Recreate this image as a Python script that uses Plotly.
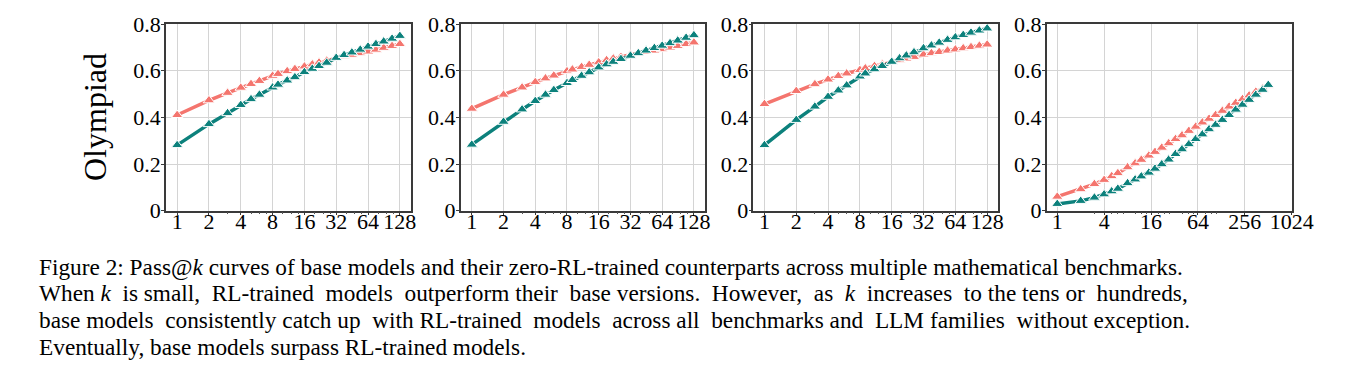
import plotly.graph_objects as go
import math

W, H = 1371, 374

# ---------------- data ----------------
k_128 = [1, 2, 3, 4, 5, 6, 8, 9, 11, 13, 16, 19, 22, 26, 32, 38, 45, 54, 64, 76, 90, 108, 128]
k_512 = [1, 2, 3, 4, 5, 6, 8, 10, 12, 15, 18, 22, 27, 33, 40, 49, 60, 73, 89, 108, 132, 161,
         196, 239, 291, 355, 433, 512]

p1_red = [0.410, 0.473, 0.505, 0.527, 0.543, 0.556, 0.578, 0.586, 0.598, 0.607, 0.618, 0.627,
          0.635, 0.643, 0.655, 0.662, 0.668, 0.675, 0.682, 0.690, 0.698, 0.706, 0.714]
p1_teal = [0.281, 0.371, 0.418, 0.453, 0.478, 0.497, 0.528, 0.540, 0.558, 0.572, 0.594, 0.608,
           0.620, 0.634, 0.655, 0.667, 0.678, 0.690, 0.703, 0.714, 0.725, 0.737, 0.749]

p2_red = [0.437, 0.497, 0.528, 0.551, 0.567, 0.579, 0.598, 0.605, 0.616, 0.625, 0.636, 0.645,
          0.652, 0.659, 0.668, 0.674, 0.680, 0.686, 0.692, 0.699, 0.706, 0.714, 0.721]
p2_teal = [0.283, 0.381, 0.434, 0.470, 0.497, 0.517, 0.547, 0.560, 0.578, 0.593, 0.614, 0.627,
           0.638, 0.650, 0.664, 0.675, 0.686, 0.697, 0.707, 0.718, 0.729, 0.741, 0.752]

p3_red = [0.457, 0.513, 0.542, 0.562, 0.577, 0.588, 0.603, 0.610, 0.620, 0.627, 0.637, 0.645,
          0.652, 0.659, 0.669, 0.675, 0.680, 0.686, 0.691, 0.696, 0.701, 0.707, 0.712]
p3_teal = [0.281, 0.389, 0.446, 0.488, 0.515, 0.537, 0.575, 0.588, 0.606, 0.620, 0.638, 0.653,
           0.665, 0.679, 0.696, 0.708, 0.720, 0.732, 0.743, 0.753, 0.763, 0.772, 0.781]

p4_red = [0.060, 0.092, 0.114, 0.132, 0.148, 0.161, 0.186, 0.203, 0.218, 0.236, 0.252, 0.270,
          0.289, 0.307, 0.323, 0.342, 0.360, 0.378, 0.394, 0.410, 0.428, 0.446, 0.462, 0.478,
          0.494, 0.510, 0.523, 0.535]
p4_teal = [0.029, 0.042, 0.056, 0.070, 0.083, 0.094, 0.118, 0.134, 0.147, 0.163, 0.180, 0.199,
           0.219, 0.243, 0.263, 0.285, 0.307, 0.327, 0.349, 0.368, 0.389, 0.410, 0.433, 0.454,
           0.475, 0.497, 0.518, 0.539]

xticks_128 = [1, 2, 4, 8, 16, 32, 64, 128]
xticks_1024 = [1, 4, 16, 64, 256, 1024]
yticks = [0, 0.2, 0.4, 0.6, 0.8]
yticklabels = ["0", "0.2", "0.4", "0.6", "0.8"]
ylabel = "Olympiad"
caption_lines = [
    "Figure 2: Pass@<i>k</i> curves of base models and their zero-RL-trained counterparts across multiple mathematical benchmarks.",
    "When <i>k</i>  is small,  RL-trained  models  outperform their  base versions.  However,  as  <i>k</i>  increases  to the tens or  hundreds,",
    "base models  consistently catch up  with RL-trained  models  across all  benchmarks and  LLM families  without exception.",
    "Eventually, base models surpass RL-trained models.",
]

RED = "#F4756E"
TEAL = "#0C817C"
FONT = "Liberation Serif"

# page offset of the figure inside the browser window (body margin)
OX, OY = 8, 8

# ---------------- layout ----------------
panels = [
    (k_128, p1_red, p1_teal, xticks_128, (166, 411), [-0.35, 7.35]),
    (k_128, p2_red, p2_teal, xticks_128, (460.7, 705), [-0.35, 7.35]),
    (k_128, p3_red, p3_teal, xticks_128, (753.3, 998.3), [-0.35, 7.35]),
    (k_512, p4_red, p4_teal, xticks_1024, (1046.7, 1291.7), [-0.45, 10.0]),
]
top_px, bot_px = 24 - OY, 210.7 - OY
LOG2_10 = math.log10(2)

fig = go.Figure()
for i, (ks, red, teal, xt, (x0, x1), rng) in enumerate(panels):
    n = "" if i == 0 else str(i + 1)
    xa, ya = "x" + n, "y" + n
    for vals, col in ((red, RED), (teal, TEAL)):
        fig.add_trace(go.Scatter(
            x=ks, y=vals, xaxis=xa, yaxis=ya, mode="lines+markers",
            line=dict(color=col, width=3.5),
            marker=dict(symbol="triangle-up", size=10, color=col,
                        line=dict(color="white", width=1)),
            showlegend=False, hoverinfo="skip", cliponaxis=False))
    minor_vals = [v for v in [3, 5, 6, 7, 10, 12, 14, 20, 24, 28, 40, 48, 56, 80, 96, 112]
                  if v < xt[-1]]
    fig.layout["xaxis" + n] = dict(
        domain=[(x0 - OX) / W, (x1 - OX) / W], anchor=ya, type="log", automargin=False,
        range=[rng[0] * LOG2_10, rng[1] * LOG2_10],
        tickvals=xt, ticktext=[str(v) for v in xt],
        showgrid=True, gridcolor="#d4d4d4", gridwidth=1,
        showline=True, mirror=True, linecolor="#3a3a3a", linewidth=1.5,
        ticks="outside", ticklen=3, tickcolor="#3a3a3a", ticklabelstandoff=-13,
        minor=dict(tickvals=minor_vals, ticks="outside", ticklen=2, tickcolor="#555",
                   showgrid=False),
        tickfont=dict(family=FONT, size=22, color="black"),
        zeroline=False, fixedrange=True)
    fig.layout["yaxis" + n] = dict(
        domain=[1 - bot_px / H, 1 - top_px / H], anchor=xa, automargin=False,
        range=[0, 0.8], tickvals=yticks, ticktext=yticklabels,
        showgrid=True, gridcolor="#d4d4d4", gridwidth=1,
        showline=True, mirror=True, linecolor="#3a3a3a", linewidth=1.5,
        ticks="outside", ticklen=3, tickcolor="#3a3a3a", ticklabelstandoff=-4,
        tickfont=dict(family=FONT, size=22, color="black"),
        zeroline=False, fixedrange=True)

annotations = [dict(
    text=ylabel, x=(95 - OX) / W, y=1 - (117 - OY) / H, xref="paper", yref="paper",
    textangle=-90, showarrow=False, xanchor="center", yanchor="middle",
    font=dict(family=FONT, size=32, color="black"))]

line_y = [266.7, 293.3, 320, 346.7]
for txt, yy in zip(caption_lines, line_y):
    annotations.append(dict(
        text=txt, x=(37 - OX) / W, y=1 - (yy - OY) / H, xref="paper", yref="paper",
        showarrow=False, xanchor="left", yanchor="middle",
        font=dict(family=FONT, size=23.3, color="black")))

fig.update_layout(
    width=W, height=H, margin=dict(l=0, r=0, t=0, b=0, autoexpand=False),
    paper_bgcolor="white", plot_bgcolor="white",
    annotations=annotations, showlegend=False)

fig.write_html("out.html")
